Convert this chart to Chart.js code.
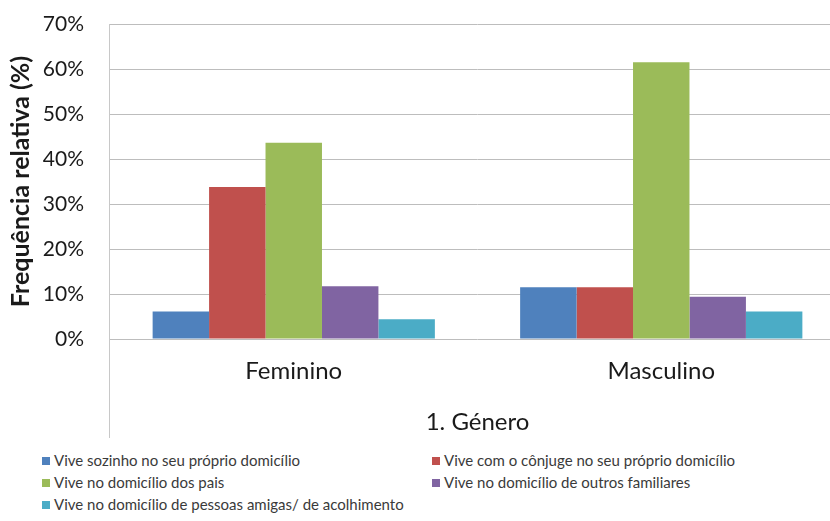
<html>
  <head>
    <meta charset="utf-8">
    <script type="text/javascript" src="https://cdn.jsdelivr.net/npm/chart.js@4/dist/chart.umd.min.js"></script>
    <style>
      body { margin: 0; overflow: hidden; background: #fff; }
      #wrap { position: relative; width: 845px; height: 440px; }
      #legend {
        position: absolute; left: 42px; top: 451px;
        display: grid; grid-template-columns: 390px 390px; row-gap: 4px;
        font-family: "Lato", sans-serif; font-size: 15px; color: #3a3a3a;
      }
      #legend div { height: 18px; line-height: 18px; white-space: nowrap; }
      #legend span { display: inline-block; width: 8px; height: 8px; margin-right: 4px; vertical-align: 1px; }
    </style>
    <script type="text/javascript">

var categories = ["Feminino", "Masculino"]
var series_names = [
  "Vive sozinho no seu próprio domicílio",
  "Vive com o cônjuge no seu próprio domicílio",
  "Vive no domicílio dos pais",
  "Vive no domicílio de outros familiares",
  "Vive no domicílio de pessoas amigas/ de acolhimento"
]
var sozinho   = [6.1, 11.5]
var conjuge   = [33.8, 11.5]
var pais      = [43.6, 61.5]
var familiares = [11.7, 9.4]
var amigas    = [4.4, 6.1]
var y_ticks = [0, 10, 20, 30, 40, 50, 60, 70]

var colors = ["#4f81bd", "#c0504d", "#9bbb59", "#8064a2", "#4bacc6"]

// left border of the plot box runs down past the category labels
var frame_line = {
  id: "frame_line",
  afterDraw: function(chart) {
    var ctx = chart.ctx, a = chart.chartArea
    ctx.save()
    ctx.strokeStyle = "#c8c8c8"
    ctx.lineWidth = 1
    ctx.beginPath()
    ctx.moveTo(a.left - 0.5, a.top)
    ctx.lineTo(a.left - 0.5, a.bottom + 99)
    ctx.stroke()
    ctx.restore()
  }
}

function draw_chart() {
  var all = [sozinho, conjuge, pais, familiares, amigas]
  var datasets = all.map(function(vals, i) {
    return {
      label: series_names[i],
      data: vals,
      backgroundColor: colors[i],
      categoryPercentage: 0.768,
      barPercentage: 1.0
    }
  })

  var ctx = document.getElementById("chart").getContext("2d")
  new Chart(ctx, {
    type: "bar",
    data: { labels: categories, datasets: datasets },
    plugins: [frame_line],
    options: {
      responsive: false,
      animation: false,
      layout: { padding: { top: 24, bottom: 0, left: 0, right: 0 } },
      plugins: { legend: { display: false }, tooltip: { enabled: false } },
      scales: {
        x: {
          afterFit: function(scale) { scale.height = 101 },
          grid: { display: false },
          border: { display: false },
          ticks: { color: "#1a1a1a", padding: 10, font: { family: "Lato", size: 24 } },
          title: {
            display: true, text: "1. Género", color: "#1a1a1a",
            font: { family: "Lato", size: 24 }, padding: { top: 10, bottom: 3 }
          }
        },
        y: {
          min: 0, max: 70,
          afterFit: function(scale) {
            scale.width = 110
            scale.paddingTop = 0
            scale.paddingBottom = 0
          },
          afterBuildTicks: function(scale) {
            scale.ticks = y_ticks.map(function(v) { return { value: v } })
          },
          grid: { color: "#bdbdbd", lineWidth: 1, drawTicks: false },
          border: { display: false },
          ticks: {
            color: "#1a1a1a", padding: 26,
            font: { family: "Lato", size: 21 },
            callback: function(v) { return v + "%" }
          },
          title: {
            display: true, text: "Frequência relativa (%)", color: "#1a1a1a",
            font: { family: "Lato", size: 25, weight: "bold" }, padding: { top: 6, bottom: 0 }
          }
        }
      }
    }
  })

  var legend = document.getElementById("legend")
  series_names.forEach(function(name, i) {
    var row = document.createElement("div")
    row.innerHTML = '<span style="background:' + colors[i] + '"></span>' + name
    legend.appendChild(row)
  })
}

window.onload = draw_chart

    </script>
  </head>
  <body>
    <div id="wrap"><canvas id="chart" width="845" height="440"></canvas></div>
    <div id="legend"></div>
  </body>
</html>
